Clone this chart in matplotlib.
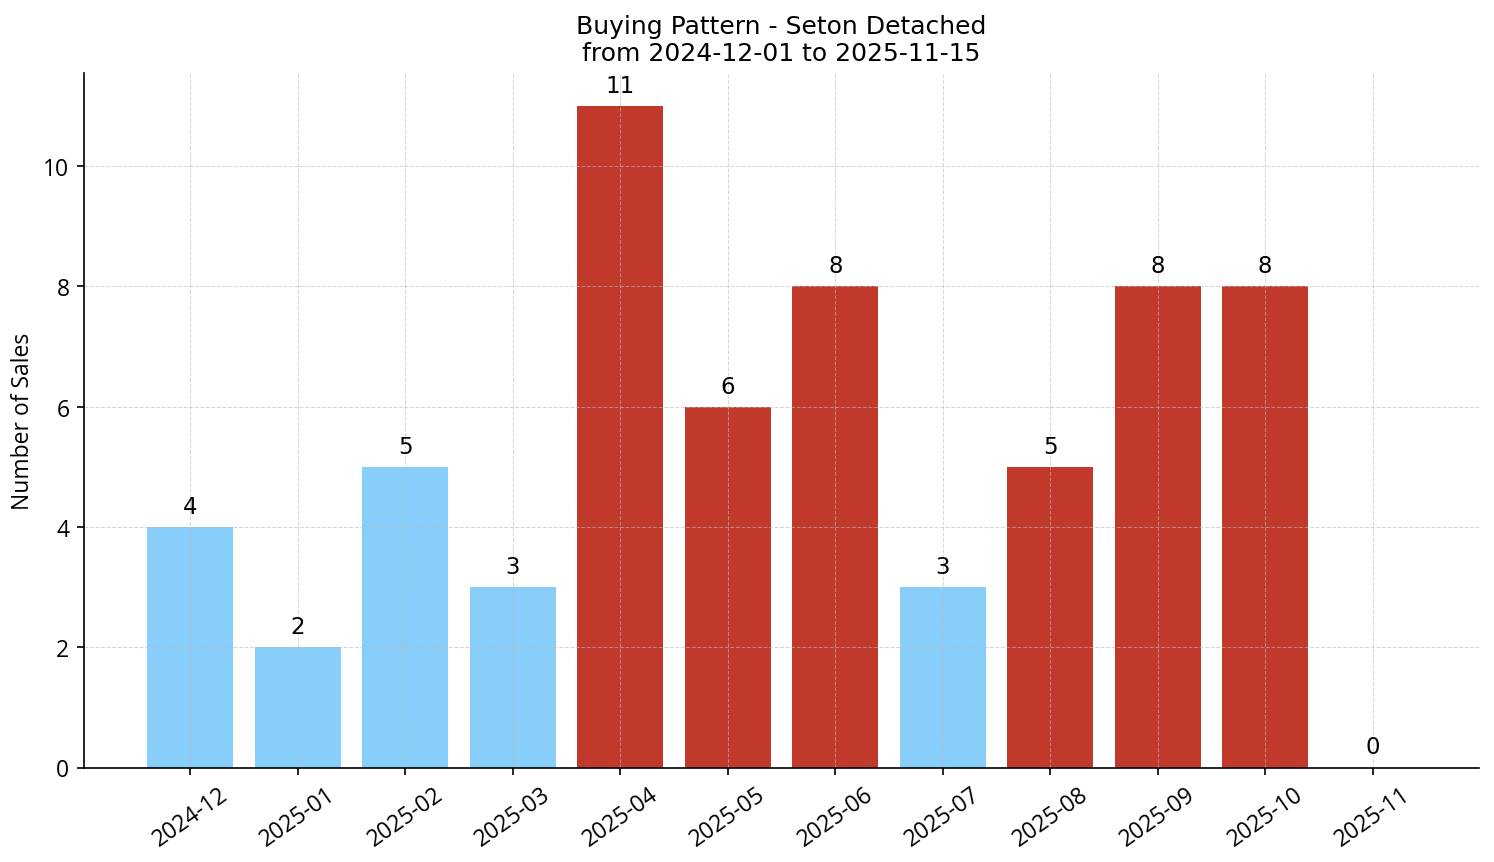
import matplotlib
matplotlib.use("Agg")
import matplotlib.pyplot as plt

months = ["2024-12", "2025-01", "2025-02", "2025-03", "2025-04", "2025-05",
          "2025-06", "2025-07", "2025-08", "2025-09", "2025-10", "2025-11"]
sales = [4, 2, 5, 3, 11, 6, 8, 3, 5, 8, 8, 0]
hot = [False, False, False, False, True, True, True, False, True, True, True, False]

blue = "#87CEFA"
red = "#C0392B"
colors = [red if h else blue for h in hot]
tick_font = ["Open Sans", "DejaVu Sans"]

fig, ax = plt.subplots(figsize=(9.96, 5.753), dpi=150)
x = range(len(months))
bars = ax.bar(x, sales, color=colors, width=0.8)

for b, v in zip(bars, sales):
    ax.text(b.get_x() + b.get_width() / 2, v + 0.15, str(v),
            ha="center", va="bottom", fontsize=11)

ax.set_xticks(list(x))
ax.set_xticklabels(months, rotation=35, fontsize=11, family=tick_font)
for lbl in ax.get_yticklabels():
    lbl.set_family(tick_font)
    lbl.set_fontsize(11)
ax.set_ylim(0, max(sales) * 1.05)
ax.set_ylabel("Number of Sales", fontsize=11, family=tick_font)
ax.set_title("Buying Pattern - Seton Detached\nfrom 2024-12-01 to 2025-11-15", fontsize=12)
ax.grid(True, linestyle="--", color="#bbbbbb", linewidth=0.5, alpha=0.6)
ax.spines["top"].set_visible(False)
ax.spines["right"].set_visible(False)

plt.subplots_adjust(left=0.0562, right=0.99, top=0.9143, bottom=0.1095)
fig.savefig("out.png", dpi=150)
